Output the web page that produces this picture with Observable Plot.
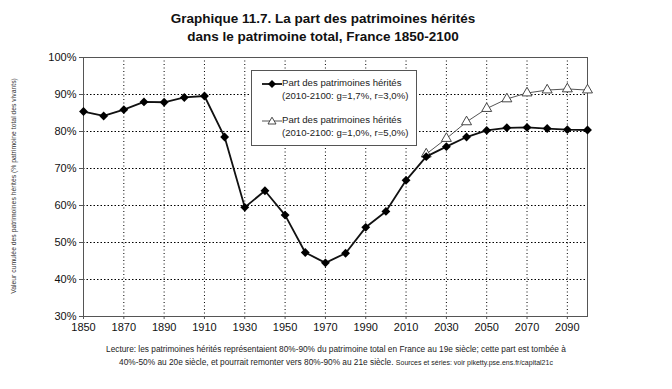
<!DOCTYPE html>
<html>
<head>
<meta charset="utf-8">
<script src="https://cdn.jsdelivr.net/npm/d3@7"></script>
<script src="https://cdn.jsdelivr.net/npm/@observablehq/plot@0.6"></script>
<style>
  html, body { margin: 0; padding: 0; background: #fff; }
  #wrap { position: relative; width: 672px; height: 389px; font-family: "Liberation Sans", Arial, sans-serif; color: #111; }
  #title { position: absolute; left: 0; width: 646px; top: 10px; text-align: center; font-weight: bold; font-size: 13.5px; line-height: 18px; }
  #caption { position: absolute; left: 0; width: 672px; top: 343px; text-align: center; font-size: 8.3px; line-height: 13px; color: #222; }
  #caption .small { font-size: 7px; }
  #ylab { position: absolute; left: 13px; top: 186px; transform: translate(-50%, -50%) rotate(-90deg); white-space: nowrap; font-size: 6.8px; color: #333; }
  #legend { position: absolute; left: 251px; top: 70px; width: 166px; height: 76px; border: 1px solid #555; background: #fff; font-size: 9.6px; color: #222; box-sizing: border-box; }
  .entry { position: absolute; left: 9px; }
  .entry svg { position: absolute; left: 0; top: 0; }
  .entry .txt { position: absolute; left: 21px; top: -1px; white-space: nowrap; line-height: 12.5px; }
</style>
</head>
<body>
<div id="wrap">
  <div id="chart"></div>
  <div id="title">Graphique 11.7. La part des patrimoines hérités<br>dans le patrimoine total, France 1850-2100</div>
  <div id="ylab">Valeur cumulée des patrimoines hérités (% patrimoine total des vivants)</div>
  <div id="legend"></div>
  <div id="caption">Lecture: les patrimoines hérités représentaient 80%-90% du patrimoine total en France au 19e siècle; cette part est tombée à<br>40%-50% au 20e siècle, et pourrait remonter vers 80%-90% au 21e siècle. <span class="small">Sources et séries: voir piketty.pse.ens.fr/capital21c</span></div>
</div>
<script>
// ---- data ----
const years1 = [1850,1860,1870,1880,1890,1900,1910,1920,1930,1940,1950,1960,1970,1980,1990,2000,2010,2020,2030,2040,2050,2060,2070,2080,2090,2100];
const share1 = [85.4,84.2,85.9,88.0,87.9,89.2,89.6,78.5,59.5,64.0,57.4,47.3,44.5,47.1,54.1,58.4,66.8,73.2,75.9,78.5,80.3,81.0,81.1,80.8,80.5,80.4];
const years2 = [2020,2030,2040,2050,2060,2070,2080,2090,2100];
const share2 = [73.9,78.1,82.6,86.2,88.8,90.4,91.2,91.5,91.2];
const xTicks = [1850,1870,1890,1910,1930,1950,1970,1990,2010,2030,2050,2070,2090];
const yTicks = [30,40,50,60,70,80,90,100];
const seriesLabels = ["Part des patrimoines hérités", "(2010-2100: g=1,7%, r=3,0%)", "Part des patrimoines hérités", "(2010-2100: g=1,0%, r=5,0%)"];

const s1 = years1.map((y, i) => ({year: y, v: share1[i]}));
const s2 = years2.map((y, i) => ({year: y, v: share2[i]}));

const chart = Plot.plot({
  width: 672,
  height: 389,
  marginLeft: 83,
  marginRight: 85,
  marginTop: 57,
  marginBottom: 73,
  style: {fontFamily: "Liberation Sans, Arial, sans-serif", fontSize: "11px", color: "#111", background: "transparent", overflow: "visible"},
  x: {domain: [1850, 2100]},
  y: {domain: [30, 100]},
  marks: [
    Plot.gridX(xTicks.slice(1), {stroke: "#000", strokeOpacity: 1, strokeWidth: 1, strokeDasharray: "1,2.5"}),
    Plot.gridY(yTicks.slice(1, -1), {stroke: "#000", strokeOpacity: 1, strokeWidth: 1, strokeDasharray: "1.5,2"}),
    Plot.frame({stroke: "#555", strokeWidth: 1}),
    Plot.axisX({ticks: xTicks, tickFormat: d => String(d), tickSize: 3, tickPadding: 4, label: null, stroke: "#555"}),
    Plot.axisY({ticks: yTicks, tickFormat: d => d + "%", tickSize: 4, tickPadding: 3, label: null, stroke: "#555"}),
    Plot.line(s2, {x: "year", y: "v", stroke: "#555", strokeWidth: 1}),
    Plot.dot(s2, {x: "year", y: "v", symbol: "triangle", r: 3.7, fill: "#fff", stroke: "#333", strokeWidth: 0.9}),
    Plot.line(s1, {x: "year", y: "v", stroke: "#111", strokeWidth: 1.8}),
    Plot.dot(s1, {x: "year", y: "v", symbol: "diamond2", r: 4, fill: "#000", stroke: "none"})
  ]
});
document.getElementById("chart").appendChild(chart);

// ---- legend ----
const legend = document.getElementById("legend");
function entry(top, kind, l1, l2) {
  const e = document.createElement("div");
  e.className = "entry";
  e.style.top = top + "px";
  const sym = kind === 1
    ? '<path d="M1,6H21" stroke="#111" stroke-width="1.8"/><path d="M11,2 L15,6 L11,10 L7,6Z" fill="#000"/>'
    : '<path d="M1,6H21" stroke="#555" stroke-width="1"/><path d="M11,2.2 L15,9 L7,9Z" fill="#fff" stroke="#333" stroke-width="0.9"/>';
  e.innerHTML = '<svg width="22" height="12">' + sym + '</svg><div class="txt">' + l1 + '<br>' + l2 + '</div>';
  legend.appendChild(e);
}
entry(7, 1, seriesLabels[0], seriesLabels[1]);
entry(44, 2, seriesLabels[2], seriesLabels[3]);
</script>
</body>
</html>
